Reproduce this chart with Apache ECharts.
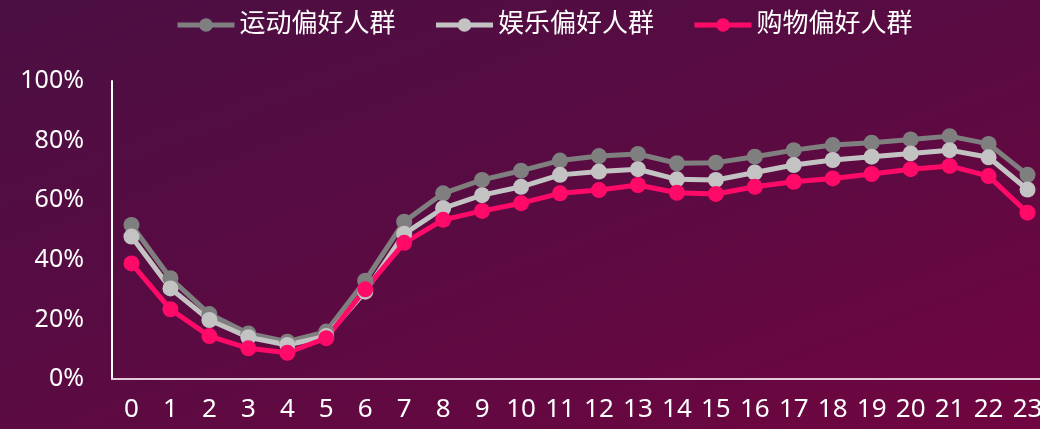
<!DOCTYPE html>
<html>
<head>
<meta charset="utf-8">
<script src="https://cdn.jsdelivr.net/npm/echarts@6/dist/echarts.min.js"></script>
<style>
html,body{margin:0;padding:0;}
#c{width:1040px;height:429px;background:linear-gradient(160deg,#4b0f43 0%,#5a0b42 50%,#700540 100%);}
</style>
</head>
<body>
<div id="c"></div>
<script>
const hours = ['0','1','2','3','4','5','6','7','8','9','10','11','12','13','14','15','16','17','18','19','20','21','22','23'];
const sportsFans = [51.7,33.8,21.8,15.3,12.5,15.9,33.0,52.8,62.3,66.8,69.9,73.3,74.8,75.5,72.4,72.6,74.6,76.8,78.5,79.3,80.4,81.5,78.9,68.5];
const entertainmentFans = [47.8,30.4,19.8,14.0,11.4,14.4,29.3,48.7,57.3,61.7,64.5,68.5,69.6,70.4,67.0,66.8,69.3,71.8,73.5,74.6,75.7,76.8,74.4,63.6];
const shoppingFans = [38.8,23.4,14.4,10.3,8.8,13.7,30.1,45.7,53.4,56.4,59.0,62.3,63.4,65.1,62.5,62.1,64.5,66.2,67.3,68.8,70.4,71.5,68.1,55.8];
const seriesNames = ['运动偏好人群','娱乐偏好人群','购物偏好人群'];
const yTicks = [0,20,40,60,80,100];

const font = "'Noto Sans','Noto Sans CJK SC',sans-serif";
const chart = echarts.init(document.getElementById('c'), null, {renderer:'canvas'});
function mk(name, data, color){
  return {
    name, type:'line', data,
    symbol:'circle', symbolSize:16,
    lineStyle:{width:5,color},
    itemStyle:{color},
    emphasis:{disabled:true},
    animation:false
  };
}
chart.setOption({
  backgroundColor:'transparent',
  animation:false,
  legend:{
    top:7, left:170,
    itemWidth:57, itemHeight:17, itemGap:38,
    lineStyle:{width:5},
    textStyle:{color:'#ffffff',fontSize:26,fontFamily:font},
    data:seriesNames
  },
  grid:{left:112, top:81, bottom:50, width:935, containLabel:false, outerBoundsMode:'none'},
  xAxis:{
    type:'category', data:hours, boundaryGap:true,
    axisLine:{show:true,lineStyle:{color:'#e3cbdb',width:2}},
    axisTick:{show:false},
    axisLabel:{color:'#ffffff',fontSize:26,fontFamily:font,margin:18,interval:0},
    splitLine:{show:false}
  },
  yAxis:{
    type:'value', min:yTicks[0], max:yTicks[yTicks.length-1], interval:20,
    axisLine:{show:true,lineStyle:{color:'#ffffff',width:2}},
    axisTick:{show:false},
    axisLabel:{color:'#ffffff',fontSize:25,fontFamily:font,margin:28,formatter:'{value}%'},
    splitLine:{show:false}
  },
  series:[
    mk(seriesNames[0], sportsFans, '#7f7f7f'),
    mk(seriesNames[1], entertainmentFans, '#c3c3c3'),
    mk(seriesNames[2], shoppingFans, '#ff0a68')
  ]
});
</script>
</body>
</html>
